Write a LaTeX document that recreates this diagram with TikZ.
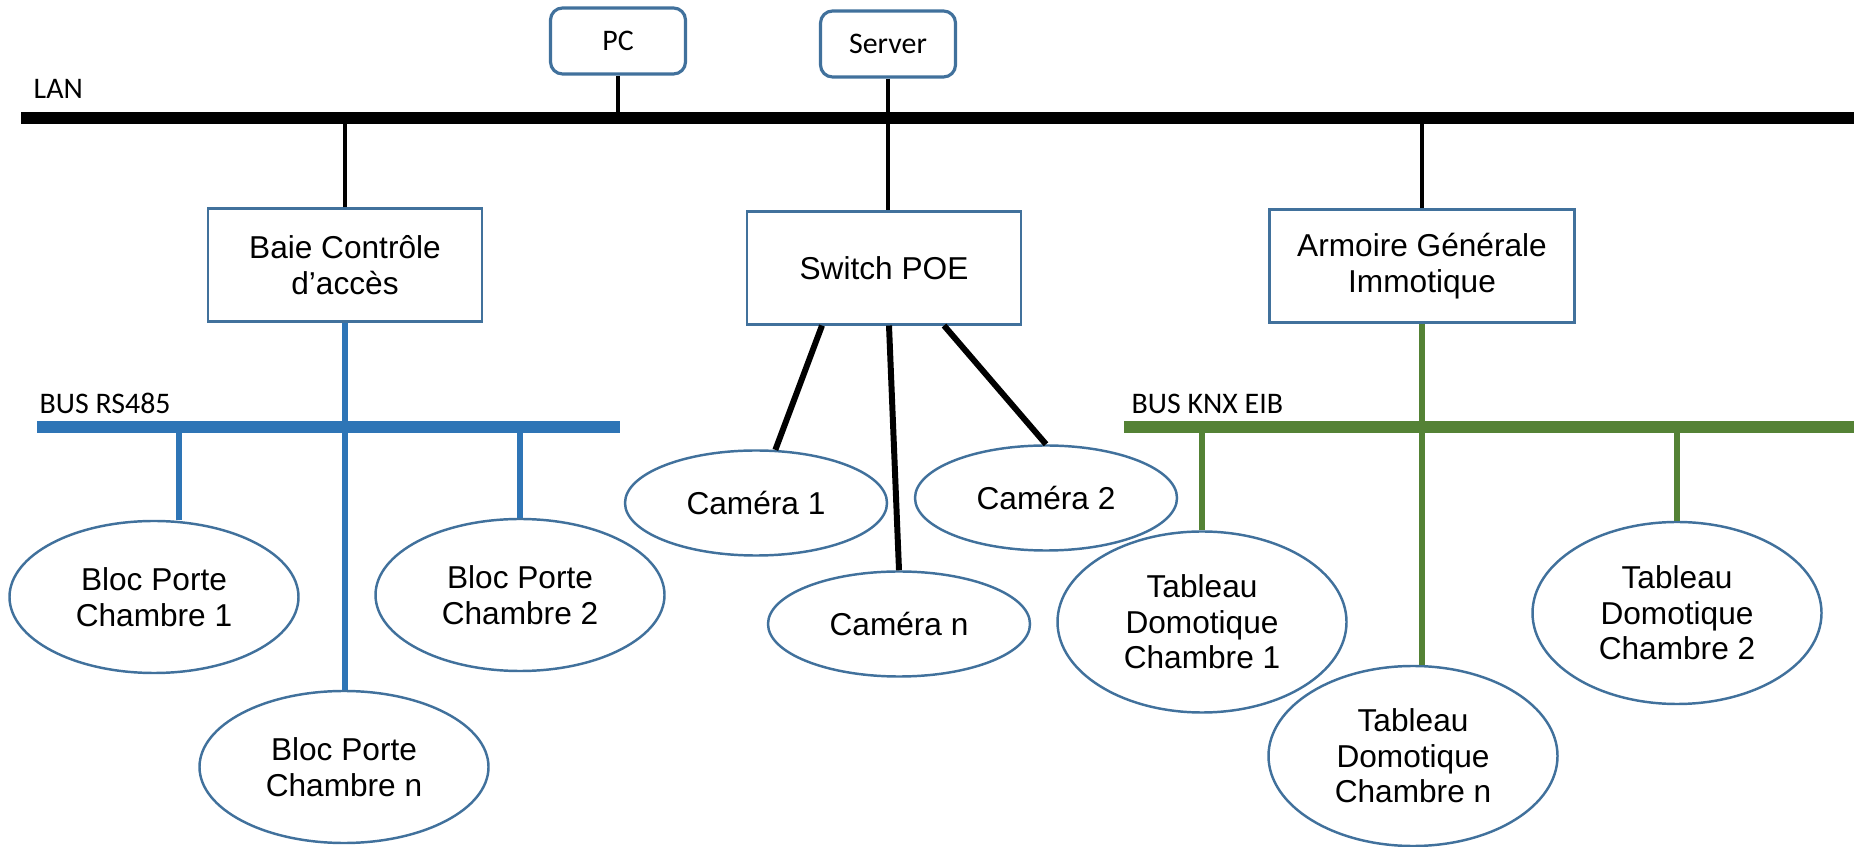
\documentclass[tikz,border=0pt]{standalone}
\usepackage{fontspec}
\setmainfont{Liberation Sans}
\newfontfamily\calibri{Carlito}
\usetikzlibrary{shapes.geometric}
\definecolor{edgeblue}{RGB}{65,113,156}
\definecolor{rsblue}{RGB}{46,117,182}
\definecolor{knxgreen}{RGB}{84,130,53}
\tikzset{
  box/.style={draw=edgeblue, line width=0.6pt, align=center, minimum width=2.74cm, minimum height=1.13cm, font=\fontsize{9}{10.1}\selectfont},
  pcbox/.style={draw=edgeblue, line width=0.9pt, rounded corners=0.12cm, minimum width=1.35cm, minimum height=0.66cm, font=\calibri\fontsize{8.5}{10}\selectfont},
  unit/.style={ellipse, draw=edgeblue, line width=0.7pt, align=center, inner sep=0pt, minimum width=2.89cm, minimum height=1.52cm, font=\fontsize{9}{10.1}\selectfont},
  cam/.style={unit, minimum width=2.62cm, minimum height=1.05cm},
  busname/.style={anchor=west, inner sep=0pt, font=\calibri\fontsize{8.5}{10}\selectfont},
  lan/.style={line width=3.4pt},
  wire/.style={line width=1.4pt},
  camwire/.style={line width=1.7pt},
  rsbus/.style={rsblue, line width=3.4pt},
  rswire/.style={rsblue, line width=1.6pt},
  knxbus/.style={knxgreen, line width=3.4pt},
  knxwire/.style={knxgreen, line width=1.6pt}
}
\begin{document}
\begin{tikzpicture}
\useasboundingbox (0,0) rectangle (18.54,8.46);
\node[busname] (lanlbl) at (0.33,7.57) {LAN};
\coordinate (lanA) at (0.21,7.28);
\coordinate (lanB) at (18.54,7.28);
\node[pcbox] (pc) at (6.18,8.05) {PC};
\node[pcbox] (srv) at (8.88,8.02) {Server};
\node[box] (baie) at (3.45,5.81) {Baie Contrôle\\d’accès};
\node[box] (sw) at (8.84,5.78) {Switch POE};
\node[box, minimum width=3.05cm] (arm) at (14.22,5.80) {Armoire Générale\\Immotique};
\draw[wire] (pc.south) -- (pc.south |- lanA);
\draw[wire] (srv.south) -- (srv.south |- sw.north);
\draw[wire] (baie.north) -- (baie.north |- lanA);
\draw[wire] (arm.north) -- (arm.north |- lanA);
\draw[lan] (lanA) -- (lanB);

\node[busname] (rslbl) at (0.39,4.43) {BUS RS485};
\coordinate (rsA) at (0.37,4.19);
\coordinate (rsB) at (6.20,4.19);
\node[unit] (b1) at (1.54,2.49) {Bloc Porte\\Chambre 1};
\node[unit] (b2) at (5.20,2.51) {Bloc Porte\\Chambre 2};
\node[unit] (bn) at (3.44,0.79) {Bloc Porte\\Chambre n};
\coordinate (b1top) at ([xshift=2.5mm]b1.north);
\draw[rswire] (baie.south) -- (baie.south |- bn.north);
\draw[rswire] (b1top) -- (b1top |- rsA);
\draw[rswire] (b2.north) -- (b2.north |- rsA);
\draw[rsbus] (rsA) -- (rsB);

\node[cam] (c1) at (7.56,3.43) {Caméra 1};
\node[cam] (cn) at (8.99,2.22) {Caméra n};
\node[cam] (c2) at (10.46,3.48) {Caméra 2};
\draw[camwire] ([xshift=-6.2mm]sw.south) -- (c1.70);
\draw[camwire] ([xshift=0.5mm]sw.south) -- (cn.north);
\draw[camwire] ([xshift=6mm]sw.south) -- (c2.north);

\node[busname] (knxlbl) at (11.31,4.42) {BUS KNX EIB};
\coordinate (knxA) at (11.24,4.19);
\coordinate (knxB) at (18.54,4.19);
\node[unit, minimum height=1.81cm] (t1) at (12.02,2.24) {Tableau\\Domotique\\Chambre 1};
\node[unit, minimum height=1.8cm] (tn) at (14.13,0.9) {Tableau\\Domotique\\Chambre n};
\node[unit, minimum height=1.82cm] (t2) at (16.77,2.33) {Tableau\\Domotique\\Chambre 2};
\draw[knxwire] (arm.south) -- (arm.south |- tn.north);
\draw[knxwire] (t1.north) -- (t1.north |- knxA);
\draw[knxwire] (t2.north) -- (t2.north |- knxA);
\draw[knxbus] (knxA) -- (knxB);
\end{tikzpicture}
\end{document}
